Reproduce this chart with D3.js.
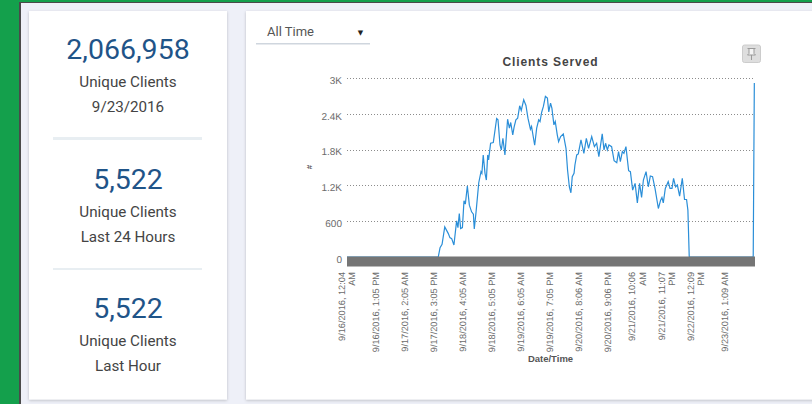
<!DOCTYPE html>
<html>
<head>
<meta charset="utf-8">
<script src="https://cdn.jsdelivr.net/npm/d3@7"></script>
<style>
  html, body { margin: 0; padding: 0; background: #eef0f8; overflow: hidden; }
  svg { display: block; }
  .stat { font-family: Roboto, sans-serif; text-anchor: middle; }
  .axis text { font-family: "Liberation Sans", Arial, sans-serif; fill: #6b6b6b; text-rendering: geometricPrecision; }
  .axis path, .axis line { display: none; }
</style>
</head>
<body>
<div class="canvas"></div>
<script>
// hours since 9/16/2016 12:04 AM
const hoursElapsed = [0, 40.8, 41.6, 42.5, 43.7, 45.3, 46, 46.8, 47.8, 49, 49.6, 50.2, 50.8, 51.6, 52.3, 52.9, 53.8, 54.7, 55.7, 56.5, 56.9, 57.7, 58.9, 59.9, 60.3, 60.9, 61.7, 62.3, 62.9, 63.3, 64.2, 65.4, 66.9, 67.5, 68.4, 69, 69.7, 70.6, 71.8, 72.6, 73.2, 74.1, 74.7, 75.5, 76.3, 77.2, 77.9, 79, 80, 80.9, 82, 82.5, 83.9, 84.8, 85.7, 86.3, 87, 87.8, 88.7, 89.6, 90.2, 91, 91.6, 92.5, 93.1, 94, 94.6, 95.5, 96.7, 97.9, 98.6, 99.4, 100.1, 100.7, 101.5, 101.9, 102.7, 103.4, 104.6, 105.9, 107, 108, 109.4, 110.6, 111.6, 112.6, 114.1, 114.9, 115.6, 116.4, 117.1, 118.3, 119.4, 120.6, 121.4, 122.2, 123.1, 123.8, 124.7, 125.9, 126.7, 127.7, 128.8, 129.8, 130.8, 131.7, 132.5, 133.7, 134.7, 135.6, 136.6, 137.7, 139.2, 140.2, 140.8, 141.4, 142.3, 143.6, 144.4, 145.3, 146, 146.9, 147.7, 148.7, 149.9, 150.9, 151.8, 152.4, 153, 181.6, 182.1];
const clients = [0, 0, 157, 213, 505, 392, 325, 308, 202, 606, 493, 729, 477, 493, 942, 886, 1189, 869, 757, 718, 471, 757, 1245, 1430, 1402, 1710, 1402, 1290, 1710, 1626, 1906, 1918, 2321, 2299, 1878, 1794, 1990, 1710, 2310, 2159, 2254, 2047, 2175, 2299, 2327, 2534, 2456, 2635, 2540, 2327, 2142, 2187, 1873, 2159, 2299, 2271, 2422, 2523, 2691, 2663, 2433, 2579, 2495, 2215, 2271, 2047, 1934, 2019, 2063, 1822, 1458, 1177, 1077, 1346, 1402, 1542, 1710, 1727, 1962, 1738, 1990, 1822, 2019, 1850, 1906, 1682, 2063, 1794, 1906, 1794, 1878, 1850, 1615, 1581, 1766, 1598, 1766, 1738, 1850, 1447, 1430, 1121, 1234, 908, 1234, 998, 1290, 1430, 1177, 1357, 1346, 1149, 813, 953, 998, 908, 1149, 1262, 1149, 1149, 1318, 1177, 1206, 1020, 1318, 964, 964, 785, 0, 0, 2916];

const tickHours = [0, 13, 26, 39, 52, 65, 78, 91, 104, 117, 130, 143, 156, 169];
const tickLabels = ['9/16/2016, 12:04 AM', '9/16/2016, 1:05 PM', '9/17/2016, 2:05 AM', '9/17/2016, 3:05 PM', '9/18/2016, 4:05 AM', '9/18/2016, 5:05 PM', '9/19/2016, 6:05 AM', '9/19/2016, 7:05 PM', '9/20/2016, 8:06 AM', '9/20/2016, 9:06 PM', '9/21/2016, 10:06 AM', '9/21/2016, 11:07 PM', '9/22/2016, 12:09 PM', '9/23/2016, 1:09 AM'];
const yTicks = [0, 600, 1200, 1800, 2400, 3000];
const yTickLabels = ['0', '600', '1.2K', '1.8K', '2.4K', '3K'];

const statValues = ['2,066,958', '5,522', '5,522'];
const statPeriods = ['9/23/2016', 'Last 24 Hours', 'Last Hour'];

const dimensions = { width: 812, height: 404, left: 347, right: 755, top: 78, bottom: 257 };

const svg = d3
  .select('.canvas')
  .append('svg')
  .attr('width', dimensions.width)
  .attr('height', dimensions.height);

const shadow = svg
  .append('defs')
  .append('filter')
  .attr('id', 'cardShadow')
  .attr('x', '-5%')
  .attr('y', '-5%')
  .attr('width', '110%')
  .attr('height', '110%');
shadow
  .append('feDropShadow')
  .attr('dx', 0)
  .attr('dy', 1)
  .attr('stdDeviation', 1.6)
  .attr('flood-color', '#000')
  .attr('flood-opacity', 0.22);

//page frame
svg.append('rect').attr('width', 812).attr('height', 404).attr('fill', '#eef0f8');
svg.append('rect').attr('width', 812).attr('height', 2).attr('fill', '#14a04c');
svg.append('rect').attr('width', 19).attr('height', 404).attr('fill', '#14a04c');
svg.append('rect').attr('x', 19).attr('y', 2).attr('width', 2).attr('height', 402).attr('fill', '#4a4a4a');
svg.append('rect').attr('x', 21).attr('y', 2).attr('width', 791).attr('height', 1).attr('fill', '#4a4a4a');

//cards
svg
  .selectAll('.card')
  .data([[29, 198], [246, 570]])
  .enter()
  .append('rect')
  .attr('class', 'card')
  .attr('x', (d) => d[0])
  .attr('y', 11)
  .attr('width', (d) => d[1])
  .attr('height', 388.5)
  .attr('fill', '#fff')
  .attr('filter', 'url(#cardShadow)');

//left hand stats
const statBase = [59, 189, 318];
statValues.forEach((value, i) => {
  const y = statBase[i];
  svg.append('text').attr('class', 'stat').attr('x', 128).attr('y', y)
    .attr('font-size', 28.5).attr('fill', '#1f5488').text(value);
  svg.append('text').attr('class', 'stat').attr('x', 128).attr('y', y + 28)
    .attr('font-size', 15.2).attr('fill', '#444').text('Unique Clients');
  svg.append('text').attr('class', 'stat').attr('x', 128).attr('y', y + 52.7)
    .attr('font-size', 15.2).attr('fill', '#444').text(statPeriods[i]);
});
[[137, 3], [268, 2]].forEach((d) => {
  svg.append('rect').attr('x', 53).attr('y', d[0]).attr('width', 149).attr('height', d[1]).attr('fill', '#e8eef2');
});

//dropdown
svg.append('text').attr('x', 267).attr('y', 36).attr('font-family', 'Roboto, sans-serif')
  .attr('font-size', 13).attr('fill', '#555').text('All Time');
svg.append('text').attr('x', 360.5).attr('y', 35).attr('text-anchor', 'middle')
  .attr('font-family', '"DejaVu Sans", sans-serif').attr('font-size', 7).attr('fill', '#222').text('▼');
svg.append('rect').attr('x', 256).attr('y', 43).attr('width', 114).attr('height', 1.5).attr('fill', '#cfd6de');

//pin button
const pin = svg.append('g').attr('transform', 'translate(742.5, 45)');
pin.append('rect').attr('width', 18).attr('height', 17.5).attr('rx', 2)
  .attr('fill', '#dedede').attr('stroke', '#cccccc');
pin.append('path').attr('d', 'M5 3.5H13M6.5 3.5V8.5L5 10H13L11.5 8.5V3.5M9 10V15')
  .attr('fill', '#f4f4f4').attr('stroke', '#9a9a9a').attr('stroke-width', 1);

//scales
const x = d3.scaleLinear().domain([0, 182.4]).range([dimensions.left, dimensions.right]);
const y = d3.scaleLinear().domain([0, 3000]).range([dimensions.bottom, dimensions.top]);

//gridlines
svg
  .append('g')
  .selectAll('line')
  .data(yTicks.filter((d) => d > 0))
  .enter()
  .append('line')
  .attr('x1', dimensions.left)
  .attr('x2', dimensions.right)
  .attr('y1', (d) => Math.round(y(d)) + 0.5)
  .attr('y2', (d) => Math.round(y(d)) + 0.5)
  .attr('stroke', '#8c8c8c')
  .attr('stroke-dasharray', '1,2');

//axes
svg
  .append('g')
  .attr('class', 'axis')
  .attr('transform', `translate(${dimensions.left}, 2)`)
  .call(
    d3.axisLeft(y)
      .tickValues(yTicks)
      .tickSize(0)
      .tickPadding(5)
      .tickFormat((d, i) => yTickLabels[i])
  )
  .selectAll('text')
  .attr('font-size', 10);

const xAxis = svg
  .append('g')
  .attr('class', 'axis')
  .attr('transform', `translate(-1, ${dimensions.bottom + 15})`)
  .call(
    d3.axisBottom(x)
      .tickValues(tickHours)
      .tickSize(0)
      .tickPadding(0)
      .tickFormat((d, i) => tickLabels[i])
  );

//rotate labels, long ones wrap the AM/PM on a second line
xAxis.selectAll('text').each(function (d, i) {
  const label = tickLabels[i];
  const long = label.length > 18;
  const text = d3.select(this)
    .text(null)
    .attr('font-size', 9.2)
    .attr('text-anchor', 'end')
    .attr('transform', 'rotate(-90)')
    .attr('x', 0)
    .attr('y', 0);
  if (long) {
    const cut = label.lastIndexOf(' ');
    text.append('tspan').attr('x', 0).attr('dy', '-0.2em').text(label.slice(0, cut));
    text.append('tspan').attr('x', 0).attr('dy', '1.1em').text(label.slice(cut + 1));
  } else {
    text.append('tspan').attr('x', 0).attr('dy', '0.35em').text(label);
  }
});

const line = d3.line()
  .x((d) => x(d[0]))
  .y((d) => y(d[1]));

svg
  .append('path')
  .datum(hoursElapsed.map((h, i) => [h, clients[i]]))
  .attr('d', line)
  .attr('fill', 'none')
  .attr('stroke', '#2a8ed8')
  .attr('stroke-width', 1.2);

//gray band under the plot, on top of the zero stretches of the line
svg
  .append('rect')
  .attr('x', dimensions.left)
  .attr('y', dimensions.bottom - 0.5)
  .attr('width', dimensions.right - dimensions.left)
  .attr('height', 10)
  .attr('fill', '#757575');

//titles
svg.append('text').attr('x', 550.5).attr('y', 65.5).attr('text-anchor', 'middle')
  .attr('font-family', '"Liberation Sans", Arial, sans-serif').attr('font-weight', 'bold')
  .attr('font-size', 12).attr('letter-spacing', 0.9).attr('fill', '#444').text('Clients Served');
svg.append('text').attr('x', 550.5).attr('y', 362).attr('text-anchor', 'middle')
  .attr('font-family', '"Liberation Sans", Arial, sans-serif').attr('font-weight', 'bold')
  .attr('font-size', 9.5).attr('fill', '#555').text('Date/Time');
svg.append('text').attr('transform', 'translate(312, 167) rotate(-90)').attr('text-anchor', 'middle')
  .attr('font-family', '"Liberation Sans", Arial, sans-serif').attr('font-weight', 'bold')
  .attr('font-size', 8).attr('fill', '#555').text('#');
</script>
</body>
</html>
